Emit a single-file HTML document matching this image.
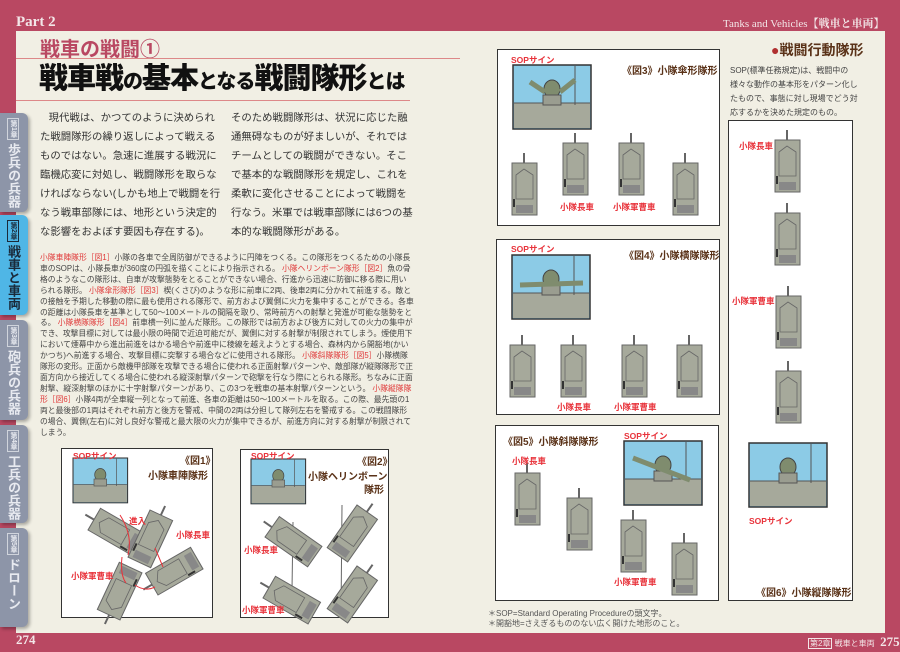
<!DOCTYPE html>
<html><head><meta charset="utf-8"><style>
*{margin:0;padding:0;box-sizing:border-box}
body{width:900px;height:652px;position:relative;overflow:hidden;background:#b94862;font-family:"Liberation Sans","Noto Sans CJK JP",sans-serif}
.a{position:absolute}
.page{left:16px;top:31px;width:869px;height:602px;background:#f1efe4}
.tab{left:0;width:28px;background:#8d95a8;border-radius:0 6px 6px 0;box-shadow:2px 2px 3px rgba(0,0,0,.3);color:#e8eaf0;font-weight:bold;overflow:hidden}
.tab .n{position:absolute;left:7px;top:5px;writing-mode:vertical-rl;font-size:7px;border:1px solid #d0d4dc;padding:1px 0;white-space:nowrap}
.tab .t{position:absolute;left:6px;top:30px;writing-mode:vertical-rl;font-size:13px;line-height:15px;white-space:nowrap}
.body{font-size:10.4px;color:#333;line-height:19px;letter-spacing:0}
.small{font-size:7.8px;color:#444;line-height:10.9px}
.r{color:#e03a3a}
.box{background:#fff;border:1.5px solid #333}
.lbl{font-size:8.5px;color:#e8333b;font-weight:bold;white-space:nowrap}
.ttl{font-size:10px;color:#5a3218;font-weight:bold;white-space:nowrap}
</style></head><body>
<div class="a page"></div>
<div class="a" style="left:16px;top:14px;color:#f3e6e8;font-family:'Liberation Serif',serif;font-size:15px;font-weight:bold">Part 2</div>
<div class="a" style="left:723px;top:15px;color:#f3e6e8;font-family:'Liberation Serif','Noto Serif CJK SC',serif;font-size:11px">Tanks and Vehicles<b>【戦車と車両】</b></div>
<div class="a" style="left:16px;top:632px;color:#f3e6e8;font-family:'Liberation Serif',serif;font-size:13px;font-weight:bold">274</div>
<div class="a" style="left:808px;top:634px;color:#f3e6e8;font-size:8px"><span style="border:1px solid #f3e6e8;padding:0 1px">第2章</span> 戦車と車両 <span style="font-family:'Liberation Serif',serif;font-size:13px;font-weight:bold">&nbsp;275</span></div>

<div class="a tab" style="top:113px;height:99px"><span class="n">第1章</span><span class="t">歩兵の兵器</span></div>
<div class="a tab" style="top:215px;height:100px;background:#4fb6e6;color:#1a2a3a"><span class="n" style="border-color:#1a2a3a">第2章</span><span class="t">戦車と車両</span></div>
<div class="a tab" style="top:320px;height:100px"><span class="n">第3章</span><span class="t">砲兵の兵器</span></div>
<div class="a tab" style="top:425px;height:98px"><span class="n">第4章</span><span class="t">工兵の兵器</span></div>
<div class="a tab" style="top:528px;height:99px"><span class="n">第5章</span><span class="t">ドローン</span></div>

<div class="a" style="left:40px;top:33px;color:#b94862;font-family:'Noto Sans CJK JP',sans-serif;font-size:20px;font-weight:bold;white-space:nowrap">戦車の戦闘①</div>
<div class="a" style="left:16px;top:58px;width:444px;height:1px;background:#d88"></div>
<div class="a" style="left:39px;top:61px;color:#111;font-weight:900;font-size:29px;white-space:nowrap;letter-spacing:-1px;line-height:36px">戦車戦<span style="font-size:20px">の</span>基本<span style="font-size:20px">となる</span>戦闘隊形<span style="font-size:20px">とは</span></div>
<div class="a" style="left:16px;top:100px;width:394px;height:1px;background:#d88"></div>

<div class="a body" style="left:40px;top:109px;width:184px">&nbsp;&nbsp;&nbsp;現代戦は、かつてのように決められた戦闘隊形の繰り返しによって戦えるものではない。急速に進展する戦況に臨機応変に対処し、戦闘隊形を取らなければならない(しかも地上で戦闘を行なう戦車部隊には、地形という決定的な影響をおよぼす要因も存在する)。</div>
<div class="a body" style="left:231px;top:109px;width:184px">そのため戦闘隊形は、状況に応じた融通無碍なものが好ましいが、それではチームとしての戦闘ができない。そこで基本的な戦闘隊形を規定し、これを柔軟に変化させることによって戦闘を行なう。米軍では戦車部隊には6つの基本的な戦闘隊形がある。</div>

<div class="a small" style="left:40px;top:253px;width:374px"><span class="r">小隊車陣隊形［図1］</span>小隊の各車で全周防御ができるように円陣をつくる。この隊形をつくるための小隊長車のSOPは、小隊長車が360度の円弧を描くことにより指示される。 <span class="r">小隊ヘリンボーン隊形［図2］</span>魚の骨格のようなこの隊形は、自車が攻撃態勢をとることができない場合、行進から迅速に防御に移る際に用いられる隊形。 <span class="r">小隊傘形隊形［図3］</span>楔(くさび)のような形に前車に2両、後車2両に分かれて前進する。敵との接触を予期した移動の際に最も使用される隊形で、前方および翼側に火力を集中することができる。各車の距離は小隊長車を基準として50〜100メートルの間隔を取り、常時前方への射撃と発進が可能な態勢をとる。 <span class="r">小隊横隊隊形［図4］</span>前車横一列に並んだ隊形。この隊形では前方および後方に対しての火力の集中ができ、攻撃目標に対しては最小限の時間で近迫可能だが、翼側に対する射撃が制限されてしまう。煙使用下において煙幕中から進出前進をはかる場合や前進中に稜線を越えようとする場合、森林内から開豁地(かいかつち)へ前進する場合、攻撃目標に突撃する場合などに使用される隊形。 <span class="r">小隊斜隊隊形［図5］</span>小隊横隊隊形の変形。正面から敵機甲部隊を攻撃できる場合に使われる正面射撃パターンや、敵部隊が縦隊隊形で正面方向から接近してくる場合に使われる縦深射撃パターンで砲撃を行なう際にとられる隊形。ちなみに正面射撃、縦深射撃のほかに十字射撃パターンがあり、この3つを戦車の基本射撃パターンという。 <span class="r">小隊縦隊隊形［図6］</span>小隊4両が全車縦一列となって前進、各車の距離は50〜100メートルを取る。この際、最先頭の1両と最後部の1両はそれぞれ前方と後方を警戒、中間の2両は分担して隊列左右を警戒する。この戦闘隊形の場合、翼側(左右)に対し良好な警戒と最大限の火力が集中できるが、前進方向に対する射撃が制限されてしまう。</div>

<div class="a box" style="left:61px;top:448px;width:152px;height:170px"></div>
<div class="a box" style="left:240px;top:449px;width:149px;height:169px"></div>
<div class="a box" style="left:497px;top:49px;width:223px;height:177px"></div>
<div class="a box" style="left:496px;top:239px;width:224px;height:176px"></div>
<div class="a box" style="left:495px;top:425px;width:224px;height:176px"></div>
<div class="a box" style="left:728px;top:120px;width:125px;height:481px"></div>

<svg class="a" style="left:0;top:0" width="900" height="652">
<defs>
<g id="tk"><line x1="12" y1="-10" x2="12" y2="14" stroke="#666" stroke-width="2"/><rect x="0" y="0" width="25" height="52" fill="#a6a99b" stroke="#666"/><path d="M4 12 L12 6 L21 12 L21 36 L4 36Z" fill="none" stroke="#666" stroke-width=".8"/><rect x="4" y="42" width="17" height="8" fill="#888"/><rect x="1" y="36" width="2" height="8" fill="#333"/></g>
<g id="pic"><rect x="0" y="0" width="78" height="64" fill="#8ccbe6" stroke="#333" stroke-width="1.5"/><rect x="1" y="38" width="76" height="25" fill="#a6a99b"/><line x1="1" y1="38" x2="77" y2="38" stroke="#555"/><ellipse cx="39" cy="24" rx="8" ry="9" fill="#7f8c6e" stroke="#444"/><rect x="30" y="30" width="18" height="10" fill="#9a9d90" stroke="#555"/><line x1="62" y1="1" x2="62" y2="40" stroke="#555"/></g>
</defs>
<use href="#pic" x="513" y="65"/><path d="M530 82 L545 92 M560 92 L575 80" stroke="#7f8c6e" stroke-width="5"/>
<use href="#tk" x="512" y="163"/><use href="#tk" x="563" y="143"/><use href="#tk" x="619" y="143"/><use href="#tk" x="673" y="163"/>
<use href="#pic" x="512" y="255"/><path d="M520 285 L583 283" stroke="#7f8c6e" stroke-width="5"/>
<use href="#tk" x="510" y="345"/><use href="#tk" x="561" y="345"/><use href="#tk" x="622" y="345"/><use href="#tk" x="677" y="345"/>
<use href="#pic" x="624" y="441"/><path d="M633 458 L690 480" stroke="#7f8c6e" stroke-width="5"/>
<use href="#tk" x="515" y="473"/><use href="#tk" x="567" y="498"/><use href="#tk" x="621" y="520"/><use href="#tk" x="672" y="543"/>
<use href="#tk" x="775" y="140"/><use href="#tk" x="775" y="213"/><use href="#tk" x="776" y="296"/><use href="#tk" x="776" y="371"/>
<use href="#pic" x="749" y="443"/>
<g transform="translate(73,458) scale(.7,.7)"><use href="#pic"/></g>
<g transform="translate(251,459) scale(.7,.7)"><use href="#pic"/></g>
<g transform="translate(88,530) rotate(-60)"><use href="#tk"/></g>
<g transform="translate(150,510) rotate(25)"><use href="#tk"/></g>
<g transform="translate(158,595) rotate(-120)"><use href="#tk"/></g>
<g transform="translate(120,620) rotate(-155)"><use href="#tk"/></g>
<path d="M120 515 Q133 535 128 555 M122 557 Q120 575 126 583 M135 585 Q145 592 155 587 M163 567 Q158 555 155 548" fill="none" stroke="#e8333b"/>
<line x1="293" y1="522" x2="292" y2="590" stroke="#666"/><line x1="342" y1="505" x2="341" y2="615" stroke="#666"/>
<g transform="translate(265,537) rotate(-55)"><use href="#tk"/></g>
<g transform="translate(357,505) rotate(35)"><use href="#tk"/></g>
<g transform="translate(263,598) rotate(-60)"><use href="#tk"/></g>
<g transform="translate(357,566) rotate(35)"><use href="#tk"/></g>
</svg>

<div class="a lbl" style="left:73px;top:450px">SOPサイン</div>
<div class="a ttl" style="left:180px;top:452px">《図1》</div>
<div class="a ttl" style="left:148px;top:467px">小隊車陣隊形</div>
<div class="a lbl" style="left:129px;top:515px">進入</div>
<div class="a lbl" style="left:176px;top:529px">小隊長車</div>
<div class="a lbl" style="left:71px;top:570px">小隊軍曹車</div>
<div class="a lbl" style="left:251px;top:450px">SOPサイン</div>
<div class="a ttl" style="left:357px;top:453px">《図2》</div>
<div class="a ttl" style="left:308px;top:468px">小隊ヘリンボーン</div>
<div class="a ttl" style="left:364px;top:481px">隊形</div>
<div class="a lbl" style="left:244px;top:544px">小隊長車</div>
<div class="a lbl" style="left:242px;top:604px">小隊軍曹車</div>

<div class="a lbl" style="left:511px;top:54px">SOPサイン</div>
<div class="a ttl" style="left:622px;top:62px">《図3》小隊傘形隊形</div>
<div class="a lbl" style="left:560px;top:201px">小隊長車</div>
<div class="a lbl" style="left:613px;top:201px">小隊軍曹車</div>
<div class="a lbl" style="left:511px;top:243px">SOPサイン</div>
<div class="a ttl" style="left:624px;top:247px">《図4》小隊横隊隊形</div>
<div class="a lbl" style="left:557px;top:401px">小隊長車</div>
<div class="a lbl" style="left:614px;top:401px">小隊軍曹車</div>
<div class="a ttl" style="left:503px;top:433px">《図5》小隊斜隊隊形</div>
<div class="a lbl" style="left:624px;top:430px">SOPサイン</div>
<div class="a lbl" style="left:512px;top:455px">小隊長車</div>
<div class="a lbl" style="left:614px;top:576px">小隊軍曹車</div>
<div class="a lbl" style="left:739px;top:140px">小隊長車</div>
<div class="a lbl" style="left:732px;top:295px">小隊軍曹車</div>
<div class="a lbl" style="left:749px;top:515px">SOPサイン</div>
<div class="a ttl" style="left:756px;top:584px">《図6》小隊縦隊隊形</div>

<div class="a" style="left:771px;top:40px;font-size:14px;font-weight:bold;color:#5a3218;white-space:nowrap"><span style="color:#b03030">●</span>戦闘行動隊形</div>
<div class="a" style="left:730px;top:64px;width:134px;font-size:8px;line-height:14px;color:#444">SOP(標準任務規定)は、戦闘中の様々な動作の基本形をパターン化したもので、事態に対し現場でどう対応するかを決めた規定のもの。</div>
<div class="a" style="left:488px;top:609px;font-size:8px;line-height:10px;color:#555">＊SOP=Standard Operating Procedureの頭文字。<br>＊開豁地=さえぎるもののない広く開けた地形のこと。</div>
</body></html>
